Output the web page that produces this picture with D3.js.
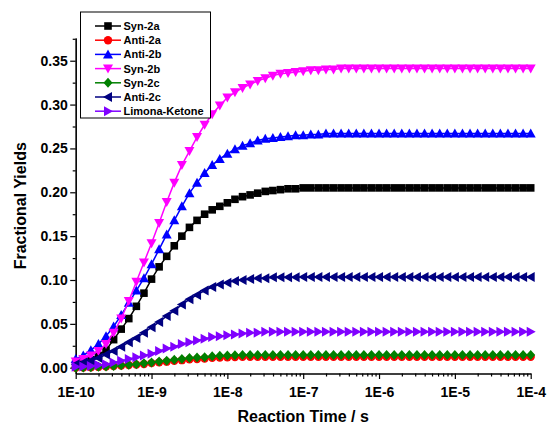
<!DOCTYPE html>
<html lang="en">
<head>
<meta charset="UTF-8">
<title>Fractional Yields vs Reaction Time</title>
<style>
  body, html {
    margin: 0;
    background: #fff;
  }
  svg text {
    font-family: "Liberation Sans", Arial, sans-serif;
    font-weight: bold;
  }
  .axis path, .axis line {
    stroke: #000;
    stroke-width: 1.2px;
  }
  .axis text {
    font-size: 14px;
    fill: #000;
  }
</style>
</head>
<body>
<div id="chart"></div>
<script src="https://d3js.org/d3.v7.min.js"></script>
<script>
// log10 of reaction time (s), one point every 0.1 decade
const logT = [
  -10.0, -9.9, -9.8, -9.7, -9.6, -9.5, -9.4, -9.3, -9.2, -9.1,
  -9.0, -8.9, -8.8, -8.7, -8.6, -8.5, -8.4, -8.3, -8.2, -8.1,
  -8.0, -7.9, -7.8, -7.7, -7.6, -7.5, -7.4, -7.3, -7.2, -7.1,
  -7.0, -6.9, -6.8, -6.7, -6.6, -6.5, -6.4, -6.3, -6.2, -6.1,
  -6.0, -5.9, -5.8, -5.7, -5.6, -5.5, -5.4, -5.3, -5.2, -5.1,
  -5.0, -4.9, -4.8, -4.7, -4.6, -4.5, -4.4, -4.3, -4.2, -4.1,
  -4.0
];

const syn2a = [
  0.004, 0.006, 0.009, 0.014, 0.020, 0.032, 0.044, 0.056, 0.070, 0.085,
  0.101, 0.115, 0.127, 0.139, 0.150, 0.160, 0.168, 0.175, 0.180, 0.184,
  0.188, 0.192, 0.195, 0.197, 0.199, 0.201, 0.202, 0.203, 0.204, 0.204,
  0.205, 0.205, 0.205, 0.205, 0.205, 0.205, 0.205, 0.205, 0.205, 0.205,
  0.205, 0.205, 0.205, 0.205, 0.205, 0.205, 0.205, 0.205, 0.205, 0.205,
  0.205, 0.205, 0.205, 0.205, 0.205, 0.205, 0.205, 0.205, 0.205, 0.205,
  0.205
];

const anti2a = [
  0.000, 0.0002, 0.0005, 0.0009, 0.0013, 0.0018, 0.0024, 0.0030, 0.0035, 0.0043,
  0.0052, 0.0061, 0.0069, 0.0078, 0.0086, 0.0095, 0.0100, 0.0105, 0.0112, 0.0116,
  0.0120, 0.0122, 0.0124, 0.0125, 0.0125, 0.0125, 0.0125, 0.0125, 0.0125, 0.0125,
  0.0125, 0.0125, 0.0125, 0.0125, 0.0125, 0.0125, 0.0125, 0.0125, 0.0125, 0.0125,
  0.0125, 0.0125, 0.0125, 0.0125, 0.0125, 0.0125, 0.0125, 0.0125, 0.0125, 0.0125,
  0.0125, 0.0125, 0.0125, 0.0125, 0.0125, 0.0125, 0.0125, 0.0125, 0.0125, 0.0125,
  0.0125
];

const anti2b = [
  0.010, 0.014, 0.020, 0.027, 0.036, 0.047, 0.060, 0.074, 0.088, 0.102,
  0.118, 0.135, 0.152, 0.168, 0.184, 0.199, 0.211, 0.222, 0.231, 0.238,
  0.244, 0.249, 0.253, 0.256, 0.259, 0.261, 0.262, 0.263, 0.264, 0.265,
  0.265, 0.266, 0.266, 0.267, 0.267, 0.267, 0.267, 0.267, 0.267, 0.267,
  0.267, 0.267, 0.267, 0.267, 0.267, 0.267, 0.267, 0.267, 0.267, 0.267,
  0.267, 0.267, 0.267, 0.267, 0.267, 0.267, 0.267, 0.267, 0.267, 0.267,
  0.267
];

const syn2b = [
  0.007, 0.010, 0.014, 0.019, 0.027, 0.040, 0.056, 0.076, 0.098, 0.120,
  0.142, 0.165, 0.189, 0.211, 0.231, 0.247, 0.263, 0.277, 0.289, 0.299,
  0.308, 0.314, 0.319, 0.323, 0.327, 0.330, 0.333, 0.335, 0.336, 0.337,
  0.338, 0.339, 0.339, 0.340, 0.340, 0.341, 0.341, 0.341, 0.341, 0.341,
  0.341, 0.341, 0.341, 0.341, 0.341, 0.341, 0.341, 0.341, 0.341, 0.341,
  0.341, 0.341, 0.341, 0.341, 0.341, 0.341, 0.341, 0.341, 0.341, 0.341,
  0.341
];

const syn2c = [
  0.000, 0.0003, 0.0006, 0.0010, 0.0015, 0.0020, 0.0027, 0.0034, 0.0040, 0.0050,
  0.0060, 0.0070, 0.0080, 0.0090, 0.0100, 0.0110, 0.0115, 0.0120, 0.0130, 0.0135,
  0.0140, 0.0142, 0.0144, 0.0145, 0.0145, 0.0145, 0.0145, 0.0145, 0.0145, 0.0145,
  0.0145, 0.0145, 0.0145, 0.0145, 0.0145, 0.0145, 0.0145, 0.0145, 0.0145, 0.0145,
  0.0145, 0.0145, 0.0145, 0.0145, 0.0145, 0.0145, 0.0145, 0.0145, 0.0145, 0.0145,
  0.0145, 0.0145, 0.0145, 0.0145, 0.0145, 0.0145, 0.0145, 0.0145, 0.0145, 0.0145,
  0.0145
];

const anti2c = [
  0.004, 0.006, 0.008, 0.011, 0.015, 0.019, 0.024, 0.029, 0.034, 0.040,
  0.046, 0.052, 0.059, 0.065, 0.072, 0.078, 0.083, 0.088, 0.092, 0.095,
  0.097, 0.099, 0.100, 0.101, 0.102, 0.102, 0.103, 0.103, 0.103, 0.103,
  0.1035, 0.1035, 0.1035, 0.1035, 0.1035, 0.1035, 0.1035, 0.1035, 0.1035, 0.1035,
  0.1035, 0.1035, 0.1035, 0.1035, 0.1035, 0.1035, 0.1035, 0.1035, 0.1035, 0.1035,
  0.1035, 0.1035, 0.1035, 0.1035, 0.1035, 0.1035, 0.1035, 0.1035, 0.1035, 0.1035,
  0.1035
];

const limonaKetone = [
  0.001, 0.0015, 0.002, 0.003, 0.004, 0.006, 0.008, 0.010, 0.012, 0.014,
  0.016, 0.019, 0.022, 0.024, 0.027, 0.029, 0.031, 0.033, 0.035, 0.036,
  0.037, 0.038, 0.039, 0.040, 0.040, 0.041, 0.041, 0.041, 0.041, 0.041,
  0.041, 0.041, 0.041, 0.041, 0.041, 0.041, 0.041, 0.041, 0.041, 0.041,
  0.041, 0.041, 0.041, 0.041, 0.041, 0.041, 0.041, 0.041, 0.041, 0.041,
  0.041, 0.041, 0.041, 0.041, 0.041, 0.041, 0.041, 0.041, 0.041, 0.041,
  0.041
];

const seriesNames = ["Syn-2a", "Anti-2a", "Anti-2b", "Syn-2b", "Syn-2c", "Anti-2c", "Limona-Ketone"];
const seriesValues = [syn2a, anti2a, anti2b, syn2b, syn2c, anti2c, limonaKetone];
const seriesColors = ["#000000", "#ff0000", "#0000ff", "#ff00ff", "#008000", "#000080", "#8000ff"];
const seriesMarkers = ["square", "circle", "up", "down", "diamond", "left", "right"];

const xTickLabels = ["1E-10", "1E-9", "1E-8", "1E-7", "1E-6", "1E-5", "1E-4"];
const yTicks = [0, 0.05, 0.10, 0.15, 0.20, 0.25, 0.30, 0.35];

const width = 549, height = 430;
const plotLeft = 75.7, plotRight = 530.7, plotTop = 38, plotBottom = 373.5;

const x = d3.scaleLog().domain([1e-10, 1e-4]).range([plotLeft, plotRight]);
const y = d3.scaleLinear().domain([-0.0066, 0.3759]).range([plotBottom, plotTop]);

// marker outlines, centred on the data point
function markerPath(type) {
  switch (type) {
    case "square": return "M-3.8,-3.8H3.8V3.8H-3.8Z";
    case "circle": return "M4.2,0A4.2,4.2 0 1,1 -4.2,0A4.2,4.2 0 1,1 4.2,0Z";
    case "up": return "M0,-5L5,4H-5Z";
    case "down": return "M0,5L5,-4H-5Z";
    case "diamond": return "M0,-5L4.5,0L0,5L-4.5,0Z";
    case "left": return "M-5,0L4,-5V5Z";
    case "right": return "M5,0L-4,-5V5Z";
  }
}

const svg = d3.select("#chart").append("svg")
  .attr("width", width)
  .attr("height", height);

// axes
const xMajor = xTickLabels.map((d, i) => Math.pow(10, -10 + i));
const xMinor = [];
xMajor.slice(0, -1).forEach(d => { for (let k = 2; k <= 9; k++) xMinor.push(d * k); });

svg.append("g")
  .attr("class", "axis")
  .attr("transform", `translate(0,${plotBottom})`)
  .call(d3.axisBottom(x).tickValues(xMinor).tickSize(3).tickSizeOuter(0).tickFormat(""));

svg.append("g")
  .attr("class", "axis")
  .attr("transform", `translate(0,${plotBottom})`)
  .call(d3.axisBottom(x).tickValues(xMajor).tickSize(5.5).tickSizeOuter(0)
    .tickFormat((d, i) => xTickLabels[i]))
  .call(g => g.selectAll("text").attr("dy", "1.05em"));

const yMinor = yTicks.map(d => d + 0.025);

svg.append("g")
  .attr("class", "axis")
  .attr("transform", `translate(${plotLeft},0)`)
  .call(d3.axisLeft(y).tickValues(yMinor).tickSize(3).tickSizeOuter(0).tickFormat(""));

svg.append("g")
  .attr("class", "axis")
  .attr("transform", `translate(${plotLeft},0)`)
  .call(d3.axisLeft(y).tickValues(yTicks).tickSize(5.5).tickSizeOuter(0).tickFormat(d3.format(".2f")))
  .call(g => g.selectAll("text").attr("x", -8));

// axis titles
svg.append("text")
  .attr("x", (plotLeft + plotRight) / 2)
  .attr("y", 422)
  .attr("text-anchor", "middle")
  .style("font-size", "16px")
  .text("Reaction Time / s");

svg.append("text")
  .attr("transform", `translate(26,${(plotTop + plotBottom) / 2}) rotate(-90)`)
  .attr("text-anchor", "middle")
  .style("font-size", "16px")
  .text("Fractional Yields");

// series
const line = d3.line()
  .x((d, i) => x(Math.pow(10, logT[i])))
  .y(d => y(d));

seriesValues.forEach((vals, s) => {
  const g = svg.append("g");
  g.append("path")
    .datum(vals)
    .attr("fill", "none")
    .attr("stroke", seriesColors[s])
    .attr("stroke-width", 1.5)
    .attr("d", line);
  g.selectAll("path.mk")
    .data(vals)
    .join("path")
    .attr("class", "mk")
    .attr("transform", (d, i) => `translate(${x(Math.pow(10, logT[i]))},${y(d)})`)
    .attr("d", markerPath(seriesMarkers[s]))
    .attr("fill", seriesColors[s]);
});

// legend
const legend = svg.append("g");
legend.append("rect")
  .attr("x", 80.5).attr("y", 12)
  .attr("width", 130).attr("height", 106)
  .attr("fill", "#fff")
  .attr("stroke", "#000")
  .attr("stroke-width", 1);

seriesNames.forEach((name, i) => {
  const ly = 26 + i * 14.2;
  legend.append("line")
    .attr("x1", 95).attr("x2", 121)
    .attr("y1", ly).attr("y2", ly)
    .attr("stroke", seriesColors[i])
    .attr("stroke-width", 1.5);
  legend.append("path")
    .attr("transform", `translate(108,${ly})`)
    .attr("d", markerPath(seriesMarkers[i]))
    .attr("fill", seriesColors[i]);
  legend.append("text")
    .attr("x", 123.5).attr("y", ly + 4)
    .style("font-size", "11px")
    .text(name);
});
</script>
</body>
</html>
